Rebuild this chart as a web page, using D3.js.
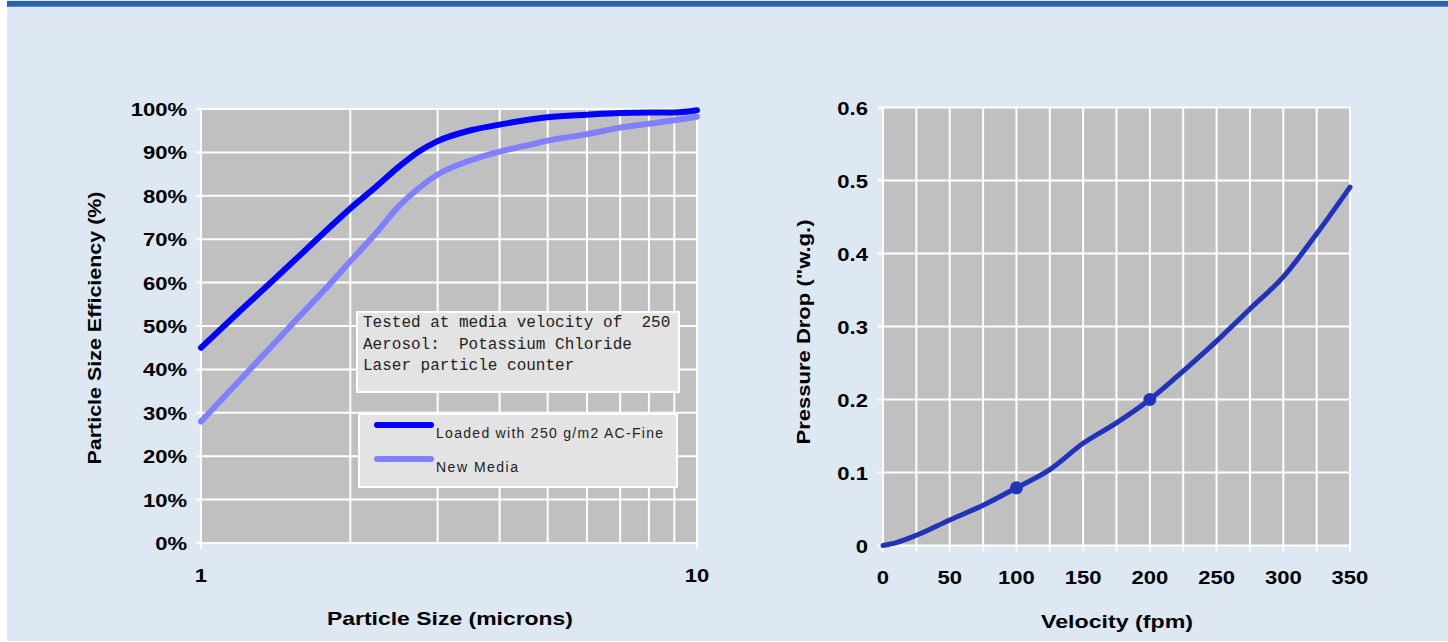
<!DOCTYPE html>
<html>
<head>
<meta charset="utf-8">
<script src="https://cdn.jsdelivr.net/npm/d3@7"></script>
<style>
  body { margin: 0; background: #ffffff; }
  svg { display: block; }
</style>
</head>
<body>
<div id="chart"></div>
<script>
// efficiency chart data (particle size in microns, efficiency in %)
var particleSizes = [1, 1.2, 1.4, 1.6, 1.8, 2, 2.25, 2.5, 2.75, 3, 3.5, 4, 4.5, 5, 6, 7, 8, 9, 10];
var loadedEff = [45, 53.5, 60.6, 66.8, 72.3, 77.1, 82.0, 86.6, 90.2, 92.6, 95.1, 96.4, 97.4, 98.1, 98.7, 99.1, 99.2, 99.2, 99.7];
var newEff = [28, 37.6, 45.8, 52.9, 59.1, 64.9, 71.3, 77.5, 81.8, 84.9, 88.2, 90.2, 91.5, 92.7, 94.2, 95.7, 96.6, 97.4, 98.2];
var effTicks = [0, 10, 20, 30, 40, 50, 60, 70, 80, 90, 100];
var sizeTicks = [1, 10];
var sizeGrid = [1, 2, 3, 4, 5, 6, 7, 8, 9, 10];
var noteLines = ["Tested at media velocity of  250", "Aerosol:  Potassium Chloride", "Laser particle counter"];
var seriesNames = ["Loaded with 250 g/m2 AC-Fine", "New Media"];

// pressure drop data (velocity fpm, pressure "w.g.)
var velocities = [0, 10, 25, 50, 75, 100, 125, 150, 175, 200, 225, 250, 275, 300, 325, 350];
var pressure = [0, 0.004, 0.014, 0.035, 0.055, 0.079, 0.104, 0.140, 0.168, 0.200, 0.239, 0.280, 0.324, 0.368, 0.427, 0.491];
var markerVel = [100, 200];
var markerP = [0.079, 0.200];
var pressureTicks = [0, 0.1, 0.2, 0.3, 0.4, 0.5, 0.6];
var velTicks = [0, 50, 100, 150, 200, 250, 300, 350];
var velGrid = d3.range(0, 351, 25);

var svgWidth = 1448, svgHeight = 642;

var svg = d3.select("#chart").append("svg")
  .attr("width", svgWidth)
  .attr("height", svgHeight);

// panel background + header bar
svg.append("rect").attr("x", 7).attr("y", 0).attr("width", svgWidth - 7).attr("height", svgHeight - 1).attr("fill", "#dee8f2");
svg.append("rect").attr("x", 7).attr("y", 1).attr("width", svgWidth - 7).attr("height", 5).attr("fill", "#2a62aa");
svg.append("rect").attr("x", 7).attr("y", 6).attr("width", svgWidth - 7).attr("height", 1).attr("fill", "#5d8cc6");

var tickFont = "'Liberation Sans', Arial, sans-serif";
var stretch = 1.16; // original labels are drawn a bit wider than Arial

// bold tick label, stretched horizontally around its anchor
function tickText(sel, anchor) {
  return sel
    .attr("text-anchor", anchor)
    .style("font-family", tickFont).style("font-weight", "bold").style("font-size", "19px");
}

function title(g, x, y, rot, len, txt) {
  g.append("text")
    .attr("transform", "translate(" + x + "," + y + ")" + (rot ? " rotate(-90)" : ""))
    .attr("text-anchor", "middle")
    .attr("textLength", len).attr("lengthAdjust", "spacingAndGlyphs")
    .style("font-family", tickFont).style("font-weight", "bold").style("font-size", "19px")
    .text(txt);
}

// ---------- left chart ----------
var left = { x0: 201, x1: 697, y0: 109, y1: 543 };

var xLog = d3.scaleLog().domain([1, 10]).range([left.x0, left.x1]);
var yEff = d3.scaleLinear().domain([0, 100]).range([left.y1, left.y0]);

var g1 = svg.append("g");

g1.append("rect")
  .attr("x", left.x0).attr("y", left.y0)
  .attr("width", left.x1 - left.x0).attr("height", left.y1 - left.y0)
  .attr("fill", "#c0c0c0");

g1.selectAll(".hgrid").data(effTicks).enter().append("line")
  .attr("x1", left.x0 - 5).attr("x2", left.x1)
  .attr("y1", d => yEff(d)).attr("y2", d => yEff(d))
  .attr("stroke", "#ffffff").attr("stroke-width", 2);

g1.selectAll(".vgrid").data(sizeGrid).enter().append("line")
  .attr("x1", d => xLog(d)).attr("x2", d => xLog(d))
  .attr("y1", left.y0).attr("y2", d => sizeTicks.indexOf(d) >= 0 ? left.y1 + 6 : left.y1)
  .attr("stroke", "#ffffff").attr("stroke-width", 2);

tickText(g1.selectAll(".ylab").data(effTicks).enter().append("text"), "end")
  .attr("transform", d => "translate(" + (left.x0 - 14) + "," + (yEff(d) + 7) + ") scale(" + stretch + ",1)")
  .text(d => d + "%");

tickText(g1.selectAll(".xlab").data(sizeTicks).enter().append("text"), "middle")
  .attr("transform", d => "translate(" + xLog(d) + ",582) scale(" + stretch + ",1)")
  .text(d => d);

title(g1, 450, 625, false, 246, "Particle Size (microns)");
title(g1, 101, 328, true, 273, "Particle Size Efficiency (%)");

var effLine = d3.line()
  .x(d => xLog(d[0]))
  .y(d => yEff(d[1]))
  .curve(d3.curveMonotoneX);

g1.append("path")
  .datum(d3.zip(particleSizes, newEff))
  .attr("d", effLine)
  .attr("fill", "none").attr("stroke", "#8080ff").attr("stroke-width", 6)
  .attr("stroke-linecap", "round").attr("stroke-linejoin", "round");

g1.append("path")
  .datum(d3.zip(particleSizes, loadedEff))
  .attr("d", effLine)
  .attr("fill", "none").attr("stroke", "#0000ff").attr("stroke-width", 6)
  .attr("stroke-linecap", "round").attr("stroke-linejoin", "round");

// note box
g1.append("rect")
  .attr("x", 357).attr("y", 312).attr("width", 322).attr("height", 80)
  .attr("fill", "#e3e3e3").attr("stroke", "#ffffff").attr("stroke-width", 2);

g1.selectAll(".note").data(noteLines).enter().append("text")
  .attr("x", 363).attr("y", (d, i) => 327 + i * 21.7)
  .style("font-family", "'Liberation Mono', 'Courier New', monospace").style("font-size", "16px")
  .style("white-space", "pre").attr("xml:space", "preserve")
  .attr("fill", "#222")
  .text(d => d);

// legend box
g1.append("rect")
  .attr("x", 359).attr("y", 414).attr("width", 318).attr("height", 73)
  .attr("fill", "#e3e3e3").attr("stroke", "#ffffff").attr("stroke-width", 2);

var legColors = ["#0000ff", "#8080ff"];
var legLens = [227, 82];
var leg = g1.selectAll(".leg").data(seriesNames).enter().append("g")
  .attr("transform", (d, i) => "translate(0," + (i * 34) + ")");
leg.append("line")
  .attr("x1", 377).attr("x2", 431).attr("y1", 425).attr("y2", 425)
  .attr("stroke", (d, i) => legColors[i]).attr("stroke-width", 6).attr("stroke-linecap", "round");
leg.append("text")
  .attr("x", 436).attr("y", 438)
  .attr("textLength", (d, i) => legLens[i]).attr("lengthAdjust", "spacing")
  .style("font-family", tickFont).style("font-size", "14px")
  .attr("fill", "#222")
  .text(d => d);

// ---------- right chart ----------
var right = { x0: 883, x1: 1350, y0: 107.5, y1: 545.5 };

var xVel = d3.scaleLinear().domain([0, 350]).range([right.x0, right.x1]);
var yP = d3.scaleLinear().domain([0, 0.6]).range([right.y1, right.y0]);

var g2 = svg.append("g");

g2.append("rect")
  .attr("x", right.x0).attr("y", right.y0)
  .attr("width", right.x1 - right.x0).attr("height", right.y1 - right.y0)
  .attr("fill", "#c0c0c0");

g2.selectAll(".hgrid").data(pressureTicks).enter().append("line")
  .attr("x1", right.x0 - 6).attr("x2", right.x1)
  .attr("y1", d => yP(d)).attr("y2", d => yP(d))
  .attr("stroke", "#ffffff").attr("stroke-width", 2);

g2.selectAll(".vgrid").data(velGrid).enter().append("line")
  .attr("x1", d => xVel(d)).attr("x2", d => xVel(d))
  .attr("y1", right.y0).attr("y2", right.y1 + 6)
  .attr("stroke", "#ffffff").attr("stroke-width", 2);

tickText(g2.selectAll(".ylab").data(pressureTicks).enter().append("text"), "end")
  .attr("transform", d => "translate(" + (right.x0 - 15) + "," + (yP(d) + 7) + ") scale(" + stretch + ",1)")
  .text(d => d);

tickText(g2.selectAll(".xlab").data(velTicks).enter().append("text"), "middle")
  .attr("transform", d => "translate(" + xVel(d) + ",584) scale(" + stretch + ",1)")
  .text(d => d);

title(g2, 1117, 628, false, 152, "Velocity (fpm)");
title(g2, 810, 332, true, 225, "Pressure Drop (\"w.g.)");

var pLine = d3.line()
  .x(d => xVel(d[0]))
  .y(d => yP(d[1]))
  .curve(d3.curveMonotoneX);

g2.append("path")
  .datum(d3.zip(velocities, pressure))
  .attr("d", pLine)
  .attr("fill", "none").attr("stroke", "#2233bb").attr("stroke-width", 5)
  .attr("stroke-linecap", "round").attr("stroke-linejoin", "round");

g2.selectAll(".mark").data(d3.zip(markerVel, markerP)).enter().append("circle")
  .attr("cx", d => xVel(d[0])).attr("cy", d => yP(d[1]))
  .attr("r", 6.5)
  .attr("fill", "#2233bb");
</script>
</body>
</html>
